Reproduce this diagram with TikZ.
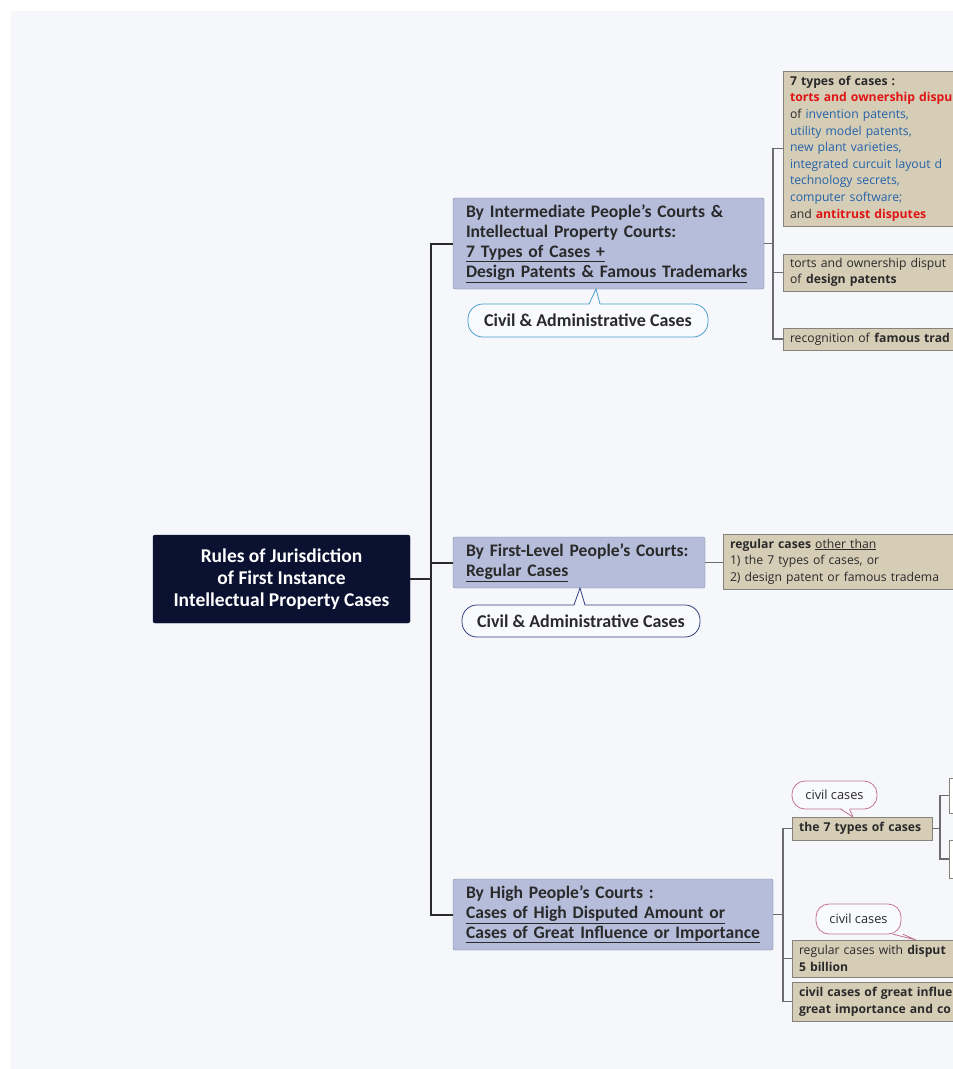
\documentclass[tikz,border=0pt]{standalone}
\usepackage{fontspec}
\setmainfont{Carlito}
\newfontfamily\DetailFont{Open Sans}
\usepackage{tikz}
\usetikzlibrary{positioning}

\definecolor{paper}{HTML}{F5F7FB}
\definecolor{tagfill}{HTML}{F9FAFD}
\definecolor{rootfill}{HTML}{0B1131}
\definecolor{courtfill}{HTML}{B5BDDB}
\definecolor{courtline}{HTML}{7E859C}
\definecolor{tanfill}{HTML}{D6CDB7}
\definecolor{tanline}{HTML}{85837C}
\definecolor{ink}{HTML}{2A2A2A}
\definecolor{hotred}{HTML}{E01414}
\definecolor{ipblue}{HTML}{2462A8}
\definecolor{civilblue}{HTML}{4A9FD0}
\definecolor{civilnavy}{HTML}{33417F}
\definecolor{civilpink}{HTML}{C27593}

\newcommand{\HotText}[1]{\textcolor{hotred}{\bfseries #1}}
\newcommand{\IpText}[1]{\textcolor{ipblue}{#1}}

\begin{document}
\begin{tikzpicture}[x=1pt,y=-1pt
        ,root/.style = {draw=rootfill,fill=rootfill,rounded corners=2pt,outer sep=0pt,text=white
          ,font=\fontsize{19.5}{22}\selectfont\bfseries,align=center,minimum width=257pt,minimum height=88pt}
        ,court/.style = {draw=courtline,fill=courtfill,rounded corners=2pt,outer sep=0pt,inner xsep=13pt
          ,text=ink,font=\fontsize{17.6}{20}\selectfont\bfseries,align=left,anchor=north west}
        ,detail/.style = {draw=tanline,fill=tanfill,outer sep=0pt,inner xsep=7pt,text=ink
          ,font=\DetailFont\fontsize{12.2}{16.6}\selectfont,align=left,anchor=west,text width=300pt}
        ,civiltag/.style = {draw=#1,fill=tagfill,thick,rounded corners=15pt,outer sep=0pt,text=ink
          ,font=\fontsize{18}{20}\selectfont\bfseries,anchor=north west}
        ,smalltag/.style = {draw=civilpink,fill=tagfill,thick,rounded corners=13pt,outer sep=0pt,text=ink
          ,font=\DetailFont\fontsize{12.8}{14}\selectfont,anchor=north west}
        ,trunk/.style = {draw=ink,line width=2pt}
        ,twig/.style = {draw=gray!85!black,line width=1.2pt}
      ]

      \useasboundingbox (0,0) rectangle (953,1069);
      \clip (0,0) rectangle (953,1069);
      \fill[paper] (11,11) rectangle (953,1069);

      \node[root](rules) at (281.5,579) {Rules of Jurisdiction\\of First Instance\\Intellectual Property Cases};

      \node[court,text width=285pt,minimum height=91pt](mid) at (453,198)
        {By Intermediate People's Courts \&\\Intellectual Property Courts:\\\underline{7 Types of Cases +}\\\underline{Design Patents \& Famous Trademarks}};
      \node[court,text width=226pt,minimum height=51pt](first) at (453,537)
        {By First-Level People's Courts:\\\underline{Regular Cases}};
      \node[court,text width=294pt,minimum height=71pt](high) at (453,879)
        {By High People's Courts :\\\underline{Cases of High Disputed Amount or}\\\underline{Cases of Great Influence or Importance}};

      \node[civiltag=civilblue,minimum width=240pt,minimum height=33pt](midtag) at (468,304) {Civil \& Administrative Cases};
      \node[civiltag=civilnavy,minimum width=238pt,minimum height=32pt](firsttag) at (462,605) {Civil \& Administrative Cases};

      \node[detail,minimum height=155pt](seventypes) at (783,148.5)
        {\textbf{7 types of cases :}\\
         \HotText{torts and ownership dispu}\\
         of \IpText{invention patents,}\\
         \IpText{utility model patents,}\\
         \IpText{new plant varieties,}\\
         \IpText{integrated curcuit layout d}\\
         \IpText{technology secrets,}\\
         \IpText{computer software;}\\
         and \HotText{antitrust disputes}};
      \node[detail,minimum height=37pt](design) at (783,272.5) {torts and ownership disput\\of \textbf{design patents}};
      \node[detail,minimum height=22pt](famous) at (783,339) {recognition of \textbf{famous trad}};

      \node[detail,minimum height=55pt](regular) at (723,561.5)
        {\textbf{regular cases} \underline{other than}\\1) the 7 types of cases, or\\2) design patent or famous tradema};

      \node[detail,text width=126pt,minimum height=23pt](seven) at (792,828.5) {\textbf{the 7 types of cases}};
      \node[draw=tanline,fill=white,anchor=west,minimum width=40pt,minimum height=35pt,outer sep=0pt](moreA) at (949,795.5) {};
      \node[draw=tanline,fill=white,anchor=west,minimum width=40pt,minimum height=38pt,outer sep=0pt](moreB) at (949,859) {};
      \node[detail,minimum height=37pt](amount) at (792,958.5) {regular cases with \textbf{disput}\\\textbf{5 billion}};
      \node[detail,minimum height=39pt,font=\DetailFont\fontsize{12.2}{16.6}\selectfont\bfseries](influence) at (792,1001.5)
        {civil cases of great influe\\great importance and co};

      \node[smalltag,minimum width=85pt,minimum height=28pt](sevennote) at (792,781) {civil cases};
      \node[smalltag,minimum width=85pt,minimum height=30pt](amountnote) at (816,904) {civil cases};

      % callout tails
      \coordinate(midtip) at (596,289);
      \coordinate(firsttip) at (580,588);
      \coordinate(seventip) at (853,817);
      \coordinate(amounttip) at (916,940);
      \fill[tagfill] ([xshift=1pt,yshift=-1.5pt]midtag.north) -- (midtip) -- ([xshift=12pt,yshift=-1.5pt]midtag.north) -- cycle;
      \draw[civilblue,thick] ([xshift=1pt]midtag.north) -- (midtip) -- ([xshift=12pt]midtag.north);
      \fill[tagfill] ([xshift=-7pt,yshift=-1.5pt]firsttag.north) -- (firsttip) -- ([xshift=4pt,yshift=-1.5pt]firsttag.north) -- cycle;
      \draw[civilnavy,thick] ([xshift=-7pt]firsttag.north) -- (firsttip) -- ([xshift=4pt]firsttag.north);
      \fill[tagfill] ([xshift=6pt,yshift=1.5pt]sevennote.south) -- (seventip) -- ([xshift=15pt,yshift=1.5pt]sevennote.south) -- cycle;
      \draw[civilpink,thick] ([xshift=6pt]sevennote.south) -- (seventip) -- ([xshift=15pt]sevennote.south);
      \fill[tagfill] ([xshift=34pt,yshift=1.5pt]amountnote.south) -- (amounttip) -- ([xshift=44pt,yshift=1.5pt]amountnote.south) -- cycle;
      \draw[civilpink,thick] ([xshift=34pt]amountnote.south) -- (amounttip) -- ([xshift=44pt]amountnote.south);

      \draw[trunk] (rules.east) -- ++(21,0) coordinate(hub);
      \draw[trunk] (hub) |- (mid.west);
      \draw[trunk] (hub) |- (first.west);
      \draw[trunk] (hub) |- (high.west);

      \draw[twig] (mid.east) -- ++(9,0) coordinate(midfork);
      \draw[twig] (midfork) |- (seventypes.west);
      \draw[twig] (midfork) |- (design.west);
      \draw[twig] (midfork) |- (famous.west);

      \draw[twig] (first.east) -- (first.east -| regular.west);

      \draw[twig] (high.east) -- ++(10,0) coordinate(highfork);
      \draw[twig] (highfork) |- (seven.west);
      \draw[twig] (highfork) |- (amount.west);
      \draw[twig] (highfork) |- (influence.west);

      \draw[twig] (seven.east) -- ++(8,0) coordinate(sevenfork);
      \draw[twig] (sevenfork) |- (moreA.west);
      \draw[twig] (sevenfork) |- (moreB.west);
    \end{tikzpicture}
\end{document}
